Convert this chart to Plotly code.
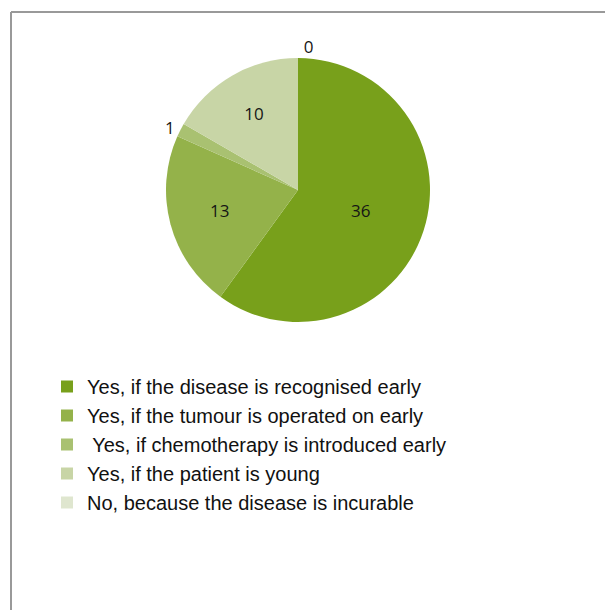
import plotly.graph_objects as go

# Survey answers and counts
answers = [
    "Yes, if the disease is recognised early",
    "Yes, if the tumour is operated on early",
    " Yes, if chemotherapy is introduced early",
    "Yes, if the patient is young",
    "No, because the disease is incurable",
]
counts = [36, 13, 1, 10, 0]
slice_colors = ["#78a01b", "#94b24a", "#a9c171", "#c8d5a6", "#dfe6cf"]
label_positions = ["inside", "inside", "outside", "inside", "outside"]

W, H = 605, 610
cx, cy, r = 298, 190, 132

label_font = dict(family="Open Sans", size=17, color="#151515")
n = len(counts)

fig = go.Figure(
    go.Pie(
        labels=answers,
        values=counts,
        sort=False,
        direction="clockwise",
        rotation=0,
        marker=dict(colors=slice_colors, line=dict(width=0)),
        textinfo="value",
        textposition=label_positions,
        insidetextorientation="horizontal",
        textfont=dict(family=["Open Sans"] * n, size=[17] * n, color=["#151515"] * n),
        outsidetextfont=dict(family=["Open Sans"] * n, size=[17] * n, color=["#151515"] * n),
        domain=dict(
            x=[(cx - r) / W, (cx + r) / W],
            y=[1 - (cy + r) / H, 1 - (cy - r) / H],
        ),
        showlegend=True,
        hoverinfo="label+value",
    )
)

# Frame lines along top and left edges
frame = dict(type="line", xref="paper", yref="paper",
             line=dict(color="#999999", width=2))
fig.add_shape(**frame, x0=11 / W, y0=1 - 12 / H, x1=1.0, y1=1 - 12 / H)
fig.add_shape(**frame, x0=11 / W, y0=1 - 12 / H, x1=11 / W, y1=0.0)

fig.update_layout(
    width=W,
    height=H,
    margin=dict(l=0, r=0, t=0, b=0),
    paper_bgcolor="white",
    plot_bgcolor="white",
    font=label_font,
    legend=dict(
        x=47 / W,
        y=1 - 367 / H,
        xanchor="left",
        yanchor="top",
        font=dict(family="Liberation Sans, Arial", size=20, color="#111111"),
        bgcolor="rgba(0,0,0,0)",
        traceorder="normal",
    ),
)

fig.write_html("out.html")
